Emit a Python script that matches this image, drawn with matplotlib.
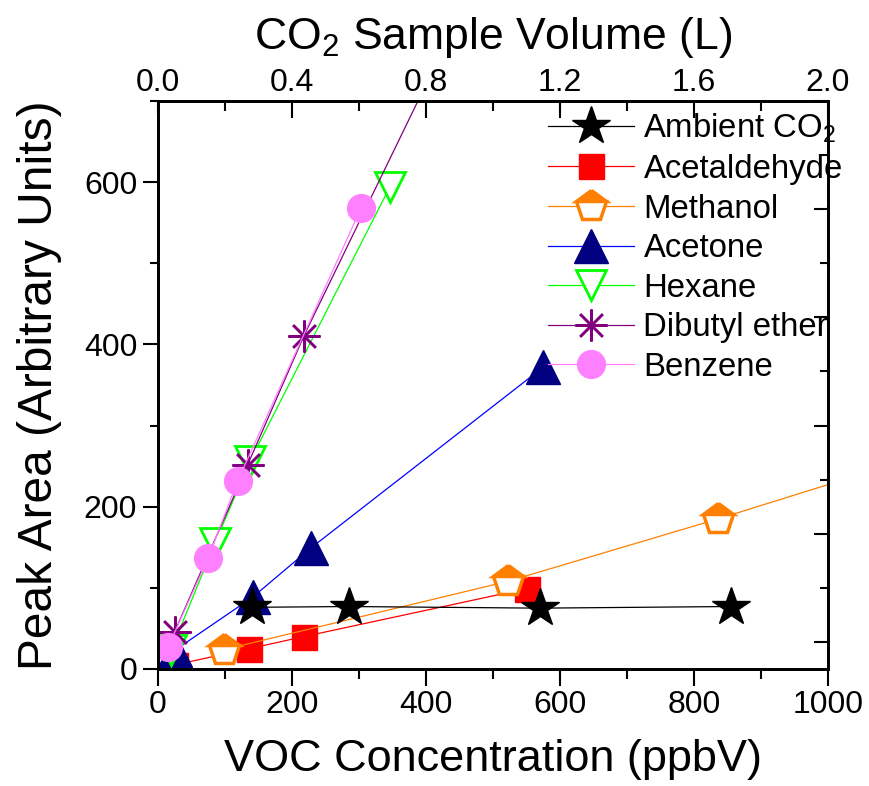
import numpy as np
import matplotlib
matplotlib.use("Agg")
import matplotlib.pyplot as plt
from matplotlib.ticker import MultipleLocator

plt.rcParams['font.family'] = ['Liberation Sans', 'DejaVu Sans']
plt.rcParams['mathtext.fontset'] = 'custom'
plt.rcParams['mathtext.rm'] = 'Liberation Sans'
plt.rcParams['mathtext.it'] = 'Liberation Sans'
plt.rcParams['mathtext.default'] = 'regular'

# ---- data ----
co2_volume = [0.28, 0.57, 1.14, 1.71]          # top axis (L)
co2_area = [76, 77, 75, 77]

acet_x = [25, 136, 218, 550]
acet_y = [5, 25, 40, 99]

meth_x = [99, 522, 836, 1100]
meth_y = [24, 108, 185, 253]

acetone_x = [25, 142, 228, 575]
acetone_y = [23, 89, 149, 372]

hex_x = [20, 85, 137, 346]
hex_y = [24, 155, 256, 594]

dbe_x = [25, 134, 218, 435]
dbe_y = [46, 252, 411, 780]

benz_x = [15, 75, 119, 303]
benz_y = [27, 137, 232, 568]

labels = ["Ambient CO$_2$", "Acetaldehyde", "Methanol", "Acetone",
          "Hexane", "Dibutyl ether", "Benzene"]

W, H = 869, 786
fig = plt.figure(figsize=(W / 100, H / 100), dpi=100)
ax = fig.add_axes([158 / W, 1 - 669 / H, (828 - 158) / W, (669 - 101) / H])

lw = 0.9
h_acet, = ax.plot(acet_x, acet_y, color='#ff0000', lw=lw, marker='s', ms=18,
                  mec='#ff0000', mfc='#ff0000')
h_meth, = ax.plot(meth_x, meth_y, color='#ff8000', lw=lw, marker='p', ms=23,
                  mec='#ff8000', mfc='#ff8000', fillstyle='top',
                  markerfacecoloralt='white', mew=2.5)
h_acetone, = ax.plot(acetone_x, acetone_y, color='#0000ff', lw=lw, marker='^',
                     ms=24, mec='#000080', mfc='#000080')
h_hex, = ax.plot(hex_x, hex_y, color='#00ff00', lw=lw, marker='v', ms=22,
                 mec='#00ff00', mfc='white', mew=2)
h_dbe, = ax.plot(dbe_x, dbe_y, color='#800080', lw=lw, marker=(8, 2, 0),
                 ms=23, mec='#800080', mew=1.8)
h_benz, = ax.plot(benz_x, benz_y, color='#ff80ff', lw=lw, marker='o', ms=20,
                  mec='#ff80ff', mfc='#ff80ff')

ax.set_xlim(0, 1000)
ax.set_ylim(0, 700)
ax.xaxis.set_major_locator(MultipleLocator(200))
ax.xaxis.set_minor_locator(MultipleLocator(100))
ax.yaxis.set_major_locator(MultipleLocator(200))
ax.yaxis.set_minor_locator(MultipleLocator(100))
ax.tick_params(axis='both', which='both', top=False, right=False,
               direction='out', labelsize=23, width=1.5)
ax.tick_params(axis='x', which='major', length=12, pad=3)
ax.tick_params(axis='x', which='minor', length=7)
ax.tick_params(axis='y', which='major', length=11, pad=4)
ax.tick_params(axis='y', which='minor', length=6)
for s in ax.spines.values():
    s.set_linewidth(1.8)
ax.set_xlabel("VOC Concentration (ppbV)", fontsize=32.5, labelpad=14)
ax.set_ylabel("Peak Area (Arbitrary Units)", fontsize=34.5, labelpad=16)

# right axis (ticks only)
axr = ax.twinx()
axr.set_ylim(-0.5, 10)
axr.yaxis.set_major_locator(MultipleLocator(2))
axr.yaxis.set_minor_locator(MultipleLocator(1))
axr.tick_params(axis='y', which='both', direction='in', labelright=False,
                width=1.5)
axr.tick_params(axis='y', which='major', length=10)
axr.tick_params(axis='y', which='minor', length=6)
for s in axr.spines.values():
    s.set_linewidth(1.8)

# top axis: CO2 sample volume
axt = ax.twiny()
axt.set_ylim(0, 700)
axt.set_xlim(0, 2.0)
axt.xaxis.set_major_locator(MultipleLocator(0.4))
axt.xaxis.set_minor_locator(MultipleLocator(0.2))
axt.xaxis.set_major_formatter(matplotlib.ticker.FormatStrFormatter('%.1f'))
axt.tick_params(axis='x', which='both', direction='in', labelsize=23,
                width=1.5, pad=2)
axt.tick_params(axis='x', which='major', length=12)
axt.tick_params(axis='x', which='minor', length=7)
axt.tick_params(axis='y', which='both', left=False, right=False,
                labelleft=False, labelright=False)
for s in axt.spines.values():
    s.set_linewidth(1.8)
h_co2, = axt.plot(co2_volume, co2_area, color='black', lw=lw, marker='*',
                  ms=29, mec='black', mfc='black')
axt.set_xlabel("CO$_2$ Sample Volume (L)", fontsize=32, labelpad=14)

handles = [h_co2, h_acet, h_meth, h_acetone, h_hex, h_dbe, h_benz]
leg = fig.legend(handles, labels, loc='upper left',
                 bbox_to_anchor=(548 / W, 1 - 112 / H),
                 frameon=False, fontsize=23.7, borderpad=0, borderaxespad=0,
                 handlelength=2.6, handletextpad=0.3, labelspacing=0.26)

fig.savefig("out.png", dpi=100)
